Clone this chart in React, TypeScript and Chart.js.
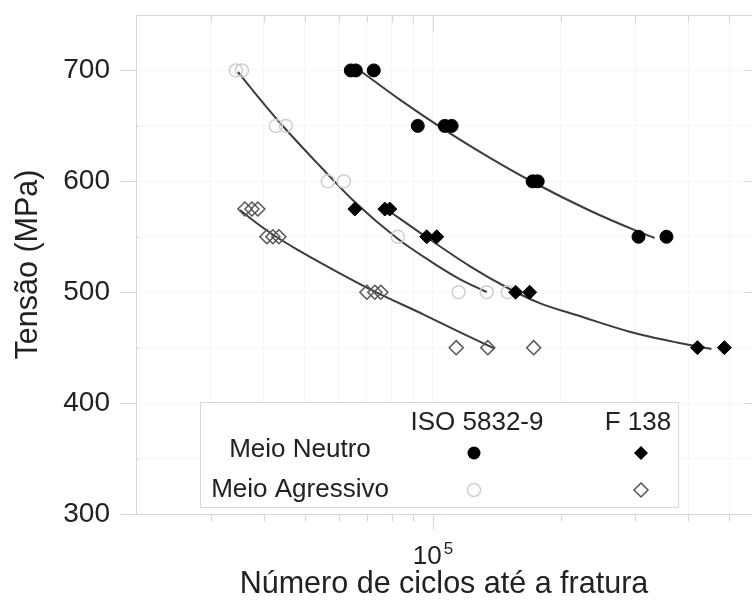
import React, { useEffect, useRef } from 'react';
import { Chart, registerables } from 'chart.js';

Chart.register(...registerables);

const FONT = '"Liberation Sans", Arial, Helvetica, sans-serif';

// ---- data (cycles to failure, stress MPa) ----
const isoNeutroX = [64130, 65890, 72640, 92200, 106700, 110800, 171900, 176700, 305300, 355300];
const isoNeutroY = [700, 700, 700, 650, 650, 650, 600, 600, 550, 550];

const f138NeutroX = [65530, 77110, 79210, 96800, 102200, 156770, 169160, 420320, 486450];
const f138NeutroY = [575, 575, 575, 550, 550, 500, 500, 450, 450];

const isoAgressivoX = [34390, 35530, 42710, 45090, 56620, 61730, 82720, 115120, 134000, 150170];
const isoAgressivoY = [700, 700, 650, 650, 600, 600, 550, 500, 500, 500];

const f138AgressivoX = [36110, 37510, 38740, 40670, 42020, 43410, 69960, 73050, 75450, 113570, 134800, 172900];
const f138AgressivoY = [575, 575, 575, 550, 550, 550, 500, 500, 500, 450, 450, 450];

// ---- trend curves ----
const isoNeutroTrendX = [68080, 83630, 109650, 137670, 171950, 234150, 302000, 332980];
const isoNeutroTrendY = [698.6, 673.7, 643.4, 620.2, 599.4, 573.7, 555.3, 548.9];

const f138NeutroTrendX = [77950, 94720, 122180, 151800, 178550, 221800, 290820, 381310, 453340];
const f138NeutroTrendY = [574.6, 552.0, 523.6, 502.9, 490.2, 478.5, 464.4, 454.2, 448.8];

const isoAgressivoTrendX = [34770, 39170, 44130, 54230, 65530, 82270, 99460, 115730, 134000];
const isoAgressivoTrendY = [698.6, 674.2, 650.8, 613.8, 581.3, 548.9, 527.2, 511.9, 500.2];

const f138AgressivoTrendX = [35150, 38740, 42490, 48650, 55690, 71870, 95760, 115730, 139930];
const f138AgressivoTrendY = [574.1, 561.5, 550.7, 537.1, 524.5, 501.9, 479.4, 464.1, 449.2];

// ---- axes ----
const xMin = 20000;
const xMax = 565000;
const xTickValues = [20000, 30000, 40000, 50000, 60000, 70000, 80000, 90000, 100000, 200000, 300000, 400000, 500000];
const xLabelValue = 100000;
const yMin = 300;
const yMax = 750;
const yStep = 50;
const yLabelMax = 700;

// ---- legend ----
const legendColumns = ['ISO 5832-9', 'F 138'];
const legendRows = ['Meio Neutro', 'Meio Agressivo'];

const pts = (xs: number[], ys: number[]) => xs.map((x, i) => ({ x, y: ys[i] }));

const AXIS_COLOR = '#d6d6d6';
const TEXT_COLOR = '#222222';

function drawDiamond(ctx: CanvasRenderingContext2D, cx: number, cy: number, r: number) {
  ctx.beginPath();
  ctx.moveTo(cx, cy - r);
  ctx.lineTo(cx + r, cy);
  ctx.lineTo(cx, cy + r);
  ctx.lineTo(cx - r, cy);
  ctx.closePath();
}

const decorPlugin = {
  id: 'decor',
  beforeDatasetsDraw(chart: any) {
    const { ctx, chartArea: a, scales } = chart;
    const x = scales.x;
    const y = scales.y;
    ctx.save();
    ctx.strokeStyle = AXIS_COLOR;
    ctx.lineWidth = 1;
    const ln = (x1: number, y1: number, x2: number, y2: number) => {
      ctx.beginPath();
      ctx.moveTo(x1, y1);
      ctx.lineTo(x2, y2);
      ctx.stroke();
    };
    const L = Math.round(a.left) + 0.5;
    const T = Math.round(a.top) + 0.5;
    const B = Math.round(a.bottom) + 0.5;
    const R = a.right;
    ln(L, T, R, T);
    ln(L, T, L, B);
    ln(L, B, R, B);
    for (let v = yMin; v <= yMax; v += yStep) {
      const py = Math.round(y.getPixelForValue(v)) + 0.5;
      if (v % 100 === 0 && v <= yLabelMax) {
        ln(L - 16, py, L, py);
        ln(R - 7, py, R, py);
      } else if (v < yMax) {
        ln(L, py, L + 3, py);
      }
    }
    for (const v of xTickValues) {
      if (v === xMin) continue;
      const px = Math.round(x.getPixelForValue(v)) + 0.5;
      const len = v === xLabelValue ? 16 : 7;
      ln(px, B, px, B + len);
      ln(px, T, px, T + len);
    }
    // 10^5 label
    const p0 = x.getPixelForValue(xLabelValue);
    ctx.fillStyle = TEXT_COLOR;
    ctx.textAlign = 'left';
    ctx.textBaseline = 'alphabetic';
    ctx.font = `26px ${FONT}`;
    ctx.fillText('10', p0 - 20, B + 49);
    ctx.font = `17px ${FONT}`;
    ctx.fillText('5', p0 + 11, B + 39);
    ctx.restore();
  },
  afterDatasetsDraw(chart: any) {
    const { ctx } = chart;
    ctx.save();
    const bx = 200.5, by = 402.5, bw = 478, bh = 105;
    ctx.fillStyle = '#ffffff';
    ctx.fillRect(bx, by, bw, bh);
    ctx.strokeStyle = AXIS_COLOR;
    ctx.lineWidth = 1;
    ctx.strokeRect(bx, by, bw, bh);
    const colX = [474, 641];
    const colTextX = [477, 638];
    const rowY = [453, 490];
    const rowTextY = [450, 490];
    ctx.fillStyle = TEXT_COLOR;
    ctx.font = `26px ${FONT}`;
    ctx.textAlign = 'center';
    ctx.textBaseline = 'middle';
    legendColumns.forEach((t, i) => ctx.fillText(t, colTextX[i], 423));
    legendRows.forEach((t, i) => ctx.fillText(t, 300, rowTextY[i]));
    // markers
    ctx.fillStyle = '#000';
    ctx.beginPath();
    ctx.arc(colX[0], rowY[0], 6.5, 0, Math.PI * 2);
    ctx.fill();
    drawDiamond(ctx, colX[1], rowY[0], 7);
    ctx.fill();
    ctx.lineWidth = 1.5;
    ctx.strokeStyle = '#cfcfcf';
    ctx.beginPath();
    ctx.arc(colX[0], rowY[1], 6.5, 0, Math.PI * 2);
    ctx.stroke();
    ctx.strokeStyle = '#555';
    drawDiamond(ctx, colX[1], rowY[1], 7);
    ctx.stroke();
    ctx.restore();
  },
};

export default function App() {
  const ref = useRef<HTMLCanvasElement | null>(null);

  useEffect(() => {
    if (!ref.current) return;
    const lineDs = (xs: number[], ys: number[]) => ({
      type: 'line' as const,
      data: pts(xs, ys),
      showLine: true,
      borderColor: '#3c3c3c',
      borderWidth: 2,
      pointRadius: 0,
      cubicInterpolationMode: 'monotone' as const,
      fill: false,
      order: 2,
    });
    const chart = new Chart(ref.current, {
      type: 'scatter',
      data: {
        datasets: [
          {
            label: 'ISO 5832-9 Meio Neutro',
            data: pts(isoNeutroX, isoNeutroY),
            pointStyle: 'circle',
            pointRadius: 6.5,
            backgroundColor: '#000',
            borderColor: '#000',
            borderWidth: 1,
            order: 0,
          },
          {
            label: 'F 138 Meio Neutro',
            data: pts(f138NeutroX, f138NeutroY),
            pointStyle: 'rectRot',
            pointRadius: 7,
            backgroundColor: '#000',
            borderColor: '#000',
            borderWidth: 1,
            order: 0,
          },
          {
            label: 'ISO 5832-9 Meio Agressivo',
            data: pts(isoAgressivoX, isoAgressivoY),
            pointStyle: 'circle',
            pointRadius: 6.5,
            backgroundColor: 'rgba(255,255,255,0)',
            borderColor: '#cfcfcf',
            borderWidth: 1.5,
            order: 1,
          },
          {
            label: 'F 138 Meio Agressivo',
            data: pts(f138AgressivoX, f138AgressivoY),
            pointStyle: 'rectRot',
            pointRadius: 7,
            backgroundColor: 'rgba(255,255,255,0)',
            borderColor: '#555',
            borderWidth: 1.5,
            order: 1,
          },
          lineDs(isoNeutroTrendX, isoNeutroTrendY),
          lineDs(f138NeutroTrendX, f138NeutroTrendY),
          lineDs(isoAgressivoTrendX, isoAgressivoTrendY),
          lineDs(f138AgressivoTrendX, f138AgressivoTrendY),
        ] as any,
      },
      options: {
        animation: false,
        responsive: false,
        maintainAspectRatio: false,
        devicePixelRatio: 1,
        layout: { autoPadding: false, padding: { top: 15, right: 0, left: 0, bottom: 0 } },
        plugins: {
          legend: { display: false },
          tooltip: { enabled: false },
        },
        scales: {
          x: {
            type: 'logarithmic',
            min: xMin,
            max: xMax,
            afterBuildTicks: (s: any) => {
              s.ticks = xTickValues.map((v) => ({ value: v }));
            },
            afterFit: (s: any) => {
              s.height = 87;
              s.paddingLeft = 0;
              s.paddingRight = 0;
              s.paddingTop = 0;
              s.paddingBottom = 0;
            },
            ticks: { display: false },
            grid: { color: 'rgba(0,0,0,0.035)', drawTicks: false },
            border: { display: false },
            title: {
              display: true,
              text: 'Número de ciclos até a fratura',
              color: TEXT_COLOR,
              font: { family: FONT, size: 30.5, lineHeight: 1 },
              padding: { top: 0, bottom: 1 },
            },
          },
          y: {
            type: 'linear',
            min: yMin,
            max: yMax,
            ticks: {
              stepSize: yStep,
              color: TEXT_COLOR,
              font: { family: FONT, size: 28 },
              padding: 26,
              callback: (v: any) => (Number(v) % 100 === 0 && Number(v) <= yLabelMax ? String(v) : ''),
            },
            afterFit: (s: any) => {
              s.width = 136;
              s.paddingLeft = 0;
              s.paddingRight = 0;
              s.paddingTop = 0;
              s.paddingBottom = 0;
            },
            grid: { color: 'rgba(0,0,0,0.035)', drawTicks: false },
            border: { display: false },
            title: {
              display: true,
              text: 'Tensão (MPa)',
              color: TEXT_COLOR,
              font: { family: FONT, size: 30.5, lineHeight: 1.2 },
              padding: { top: 10, bottom: 0 },
            },
          },
        },
      } as any,
      plugins: [decorPlugin],
    });
    return () => chart.destroy();
  }, []);

  return (
    <div style={{ position: 'absolute', left: 0, top: 0, width: 752, height: 601, background: '#fff', overflow: 'hidden' }}>
      <canvas ref={ref} width={752} height={601} style={{ display: 'block', width: 752, height: 601 }} />
    </div>
  );
}
